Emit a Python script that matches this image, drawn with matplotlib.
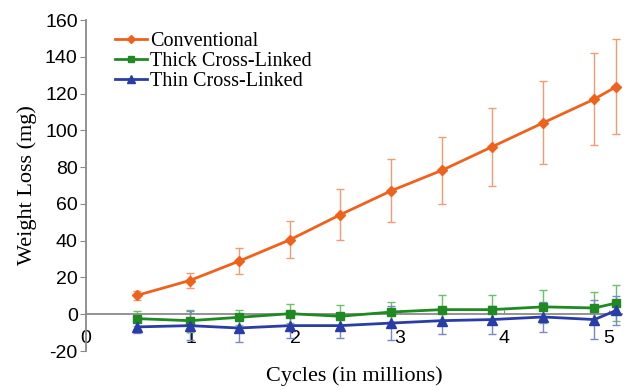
import matplotlib.pyplot as plt

plt.rcParams['axes.unicode_minus'] = False

# cycles (in millions)
cycles = [0.49, 0.99, 1.46, 1.95, 2.43, 2.92, 3.40, 3.88, 4.37, 4.86, 5.07]

conventional = [10.3, 18.3, 28.8, 40.5, 54.1, 67.2, 78.2, 91.0, 104.1, 117.0, 123.8]
conventional_err = [2.5, 4.0, 7.0, 10.0, 14.0, 17.0, 18.0, 21.0, 22.5, 25.0, 26.0]

thick = [-2.4, -3.5, -1.7, 0.3, -1.1, 1.2, 2.5, 2.5, 4.0, 3.4, 6.1]
thick_err = [4.0, 6.0, 4.0, 5.3, 6.3, 5.5, 8.0, 8.0, 9.0, 8.5, 10.0]

thin = [-6.9, -6.2, -7.5, -6.2, -6.2, -4.8, -3.5, -2.9, -1.5, -2.9, 2.1]
thin_err = [3.5, 8.0, 7.5, 7.0, 7.0, 9.0, 7.5, 7.6, 8.3, 10.4, 8.0]

x_ticks = [0, 1, 2, 3, 4, 5]
y_ticks = [-20, 0, 20, 40, 60, 80, 100, 120, 140, 160]

fig = plt.figure(figsize=(6.25, 3.9), dpi=100)
ax = fig.add_axes([0.1376, 0.10, 0.857, 0.8487])

# series: (values, errors, label, line colour, errorbar colour, marker, size)
series = [
    (conventional, conventional_err, 'Conventional', '#f0621c', '#f29a72', 'D', 5),
    (thick, thick_err, 'Thick Cross-Linked', '#1f8a22', '#6cc06a', 's', 6),
    (thin, thin_err, 'Thin Cross-Linked', '#2a3ca6', '#7c86cc', '^', 6.5),
]

for vals, errs, label, col, ecol, mk, ms in series:
    ax.errorbar(cycles, vals, yerr=errs, fmt='none', ecolor=ecol,
                elinewidth=1.0, capsize=3, capthick=1.0, zorder=2)
    ax.plot(cycles, vals, color=col, marker=mk, markersize=ms, lw=2,
            label=label, zorder=3)

ax.set_xlim(0, 5.12)
ax.set_ylim(-20, 160)
ax.set_yticks(y_ticks)
ax.set_xticks(x_ticks)

ax.spines['top'].set_visible(False)
ax.spines['right'].set_visible(False)
ax.spines['left'].set_color('#8a8a8a')
ax.spines['bottom'].set_color('#8a8a8a')
ax.spines['left'].set_linewidth(1.3)
ax.spines['bottom'].set_linewidth(1.3)
ax.spines['bottom'].set_position(('data', 0))

ax.tick_params(axis='y', direction='out', length=4, color='#8a8a8a',
               labelsize=14, pad=2)
ax.tick_params(axis='x', direction='in', length=3, color='#8a8a8a',
               labelsize=14, pad=11)
for t in ax.get_xticklabels() + ax.get_yticklabels():
    t.set_fontfamily('Liberation Sans')

ax.set_ylabel('Weight Loss (mg)', fontfamily='Liberation Serif', fontsize=16,
              labelpad=6)
ax.set_xlabel('Cycles (in millions)', fontfamily='Liberation Serif',
              fontsize=16)
ax.xaxis.set_label_coords(0.5, -0.045)

ax.legend(loc='upper left', bbox_to_anchor=(0.02, 1.02), frameon=False,
          prop={'family': 'Liberation Serif', 'size': 14.5},
          handlelength=1.6, handletextpad=0.15, labelspacing=0.05,
          markerscale=0.8)

fig.savefig('out.png', dpi=100)
